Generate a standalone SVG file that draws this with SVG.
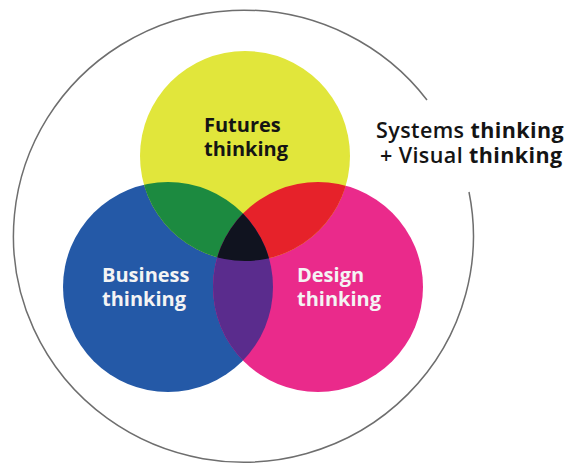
<svg xmlns="http://www.w3.org/2000/svg" width="565" height="465" viewBox="0 0 565 465">
  <style>
    .lbl { font-family: "Open Sans", "Liberation Sans", sans-serif; font-weight: 700; font-size: 20px; }
    .dark { fill: #141414; }
    .light { fill: #F4F4F4; }
    .side { font-family: "Open Sans", "Liberation Sans", sans-serif; font-size: 21.5px; letter-spacing: 0.4px; fill: #141414; }
  </style>
  <defs>
    <clipPath id="clipB"><circle cx="168" cy="287" r="105"/></clipPath>
    <clipPath id="clipP"><circle cx="318" cy="287" r="105"/></clipPath>
  </defs>
  <rect width="565" height="465" fill="#FFFFFF"/>
  <g id="outer-circle">
    <path d="M469,192 A230,226 0 1 1 427,100" fill="none" stroke="#6E6E6E" stroke-width="1.5"/>
  </g>
  <g id="business">
    <circle cx="168" cy="287" r="105" fill="#2459A7"/>
  </g>
  <g id="design">
    <circle cx="318" cy="287" r="105" fill="#EA2A8B"/>
  </g>
  <g id="futures">
    <circle cx="245" cy="156" r="105" fill="#E1E63B"/>
  </g>
  <g id="overlaps">
    <circle cx="245" cy="156" r="105" fill="#1C8A40" clip-path="url(#clipB)"/>
    <circle cx="245" cy="156" r="105" fill="#E6222A" clip-path="url(#clipP)"/>
    <circle cx="168" cy="287" r="105" fill="#5A2C8D" clip-path="url(#clipP)"/>
    <g clip-path="url(#clipP)">
      <circle cx="245" cy="156" r="105" fill="#10131F" clip-path="url(#clipB)"/>
    </g>
  </g>
  <g id="labels">
    <text class="lbl dark" x="204" y="132">Futures</text>
    <text class="lbl dark" x="204" y="156">thinking</text>
    <text class="lbl light" x="102" y="282">Business</text>
    <text class="lbl light" x="102" y="306">thinking</text>
    <text class="lbl light" x="297" y="282">Design</text>
    <text class="lbl light" x="297" y="306">thinking</text>
  </g>
  <g id="systems-visual">
    <text class="side" x="376" y="138"><tspan font-weight="600">Systems </tspan><tspan font-weight="700">thinking</tspan></text>
    <text class="side" x="380" y="163"><tspan font-weight="600">+ Visual </tspan><tspan font-weight="700">thinking</tspan></text>
  </g>
</svg>
